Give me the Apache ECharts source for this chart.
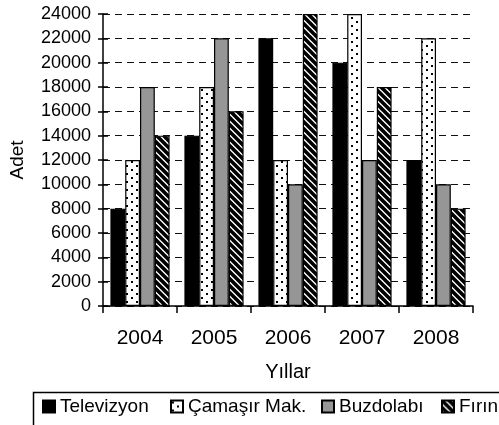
<!DOCTYPE html>
<html>
<head>
<meta charset="utf-8">
<script src="https://cdn.jsdelivr.net/npm/echarts@6/dist/echarts.min.js"></script>
<style>
	html, body { margin: 0; padding: 0; background: #fff; }
	#chart { width: 499px; height: 425px; }
</style>
</head>
<body>
<div id="chart"></div>
<script>
// data
const years = ['2004', '2005', '2006', '2007', '2008'];
const televizyon = [8000, 14000, 22000, 20000, 12000];
const camasir = [12000, 18000, 12000, 24000, 22000];
const buzdolabi = [18000, 22000, 10000, 12000, 10000];
const firin = [14000, 16000, 24000, 18000, 8000];
const seriesNames = ['Televizyon', 'Çamaşır Mak.', 'Buzdolabı', 'Fırın'];

const font = '"Liberation Sans", Arial, sans-serif';

// dotted tile for Çamaşır Mak.
function dotPattern() {
	let c = document.createElement('canvas');
	c.width = 10;
	c.height = 8;
	let ctx = c.getContext('2d');
	ctx.fillStyle = '#fff';
	ctx.fillRect(0, 0, 10, 8);
	ctx.fillStyle = '#000';
	ctx.fillRect(1, 1, 2, 2);
	ctx.fillRect(6, 5, 2, 2);
	return c;
}

// diagonal hatch tile for Fırın
function hatchPattern() {
	let c = document.createElement('canvas');
	c.width = 7;
	c.height = 7;
	let ctx = c.getContext('2d');
	ctx.fillStyle = '#fff';
	ctx.fillRect(0, 0, 7, 7);
	ctx.strokeStyle = '#000';
	ctx.lineWidth = 3.6;
	ctx.beginPath();
	for (let k = -7; k <= 7; k += 7) {
		ctx.moveTo(k - 1, -1);
		ctx.lineTo(k + 8, 8);
	}
	ctx.stroke();
	return c;
}

const fills = [
	'#000000',
	{ image: dotPattern(), repeat: 'repeat' },
	'#969696',
	{ image: hatchPattern(), repeat: 'repeat' }
];
const values = [televizyon, camasir, buzdolabi, firin];
// left edge of each legend entry
const legendLefts = [42, 170, 321, 441];

let myChart = echarts.init(document.getElementById('chart'), null, { renderer: 'canvas' });

let series = [];
let legends = [];
for (let i = 0; i < seriesNames.length; i++) {
	series.push({
		name: seriesNames[i],
		type: 'bar',
		data: values[i],
		barGap: '0%',
		barCategoryGap: '20%',
		itemStyle: {
			color: fills[i],
			borderColor: '#000',
			borderWidth: 1.2
		}
	});
	legends.push({
		left: legendLefts[i],
		top: 397,
		padding: 0,
		itemWidth: 12,
		itemHeight: 12,
		itemGap: 4,
		icon: 'rect',
		textStyle: { fontFamily: font, fontSize: 19, color: '#000' },
		data: [seriesNames[i]]
	});
}

let option = {
	animation: false,
	backgroundColor: '#fff',
	textStyle: { fontFamily: font },
	grid: {
		left: 100,
		right: 26,
		top: 14,
		bottom: 119,
		containLabel: false
	},
	legend: legends,
	graphic: [{
		type: 'rect',
		left: 31,
		top: 390,
		shape: { width: 480, height: 50 },
		style: { fill: 'none', stroke: '#000', lineWidth: 1.5 },
		z: -1
	}],
	xAxis: {
		type: 'category',
		data: years,
		name: 'Yıllar',
		nameLocation: 'middle',
		nameGap: 56,
		nameTextStyle: { fontFamily: font, fontSize: 20, color: '#000' },
		axisLine: { lineStyle: { color: '#000', width: 1.5 } },
		axisTick: { show: true, length: 7, lineStyle: { color: '#000', width: 1.5 } },
		axisLabel: { fontFamily: font, fontSize: 21, color: '#000', margin: 22 }
	},
	yAxis: [{
		type: 'value',
		min: 0,
		max: 24000,
		interval: 2000,
		name: 'Adet',
		nameLocation: 'middle',
		nameGap: 76,
		nameTextStyle: { fontFamily: font, fontSize: 19, color: '#000' },
		axisLine: { show: true, lineStyle: { color: '#000', width: 1.5 } },
		axisTick: { show: true, length: 5, lineStyle: { color: '#000', width: 1.5 } },
		axisLabel: {
			fontFamily: font, fontSize: 18, color: '#000', margin: 12,
			formatter: function(v) { return String(v); }
		},
		splitLine: { show: true, lineStyle: { color: '#111', width: 1, type: [7, 5] } }
	}, {
		// inner half of the crossing ticks
		type: 'value',
		position: 'left',
		min: 0,
		max: 24000,
		interval: 2000,
		axisLine: { show: false },
		axisTick: { show: true, inside: true, length: 5, lineStyle: { color: '#000', width: 1.5 } },
		axisLabel: { show: false },
		splitLine: { show: false }
	}],
	series: series
};

myChart.setOption(option);
</script>
</body>
</html>
